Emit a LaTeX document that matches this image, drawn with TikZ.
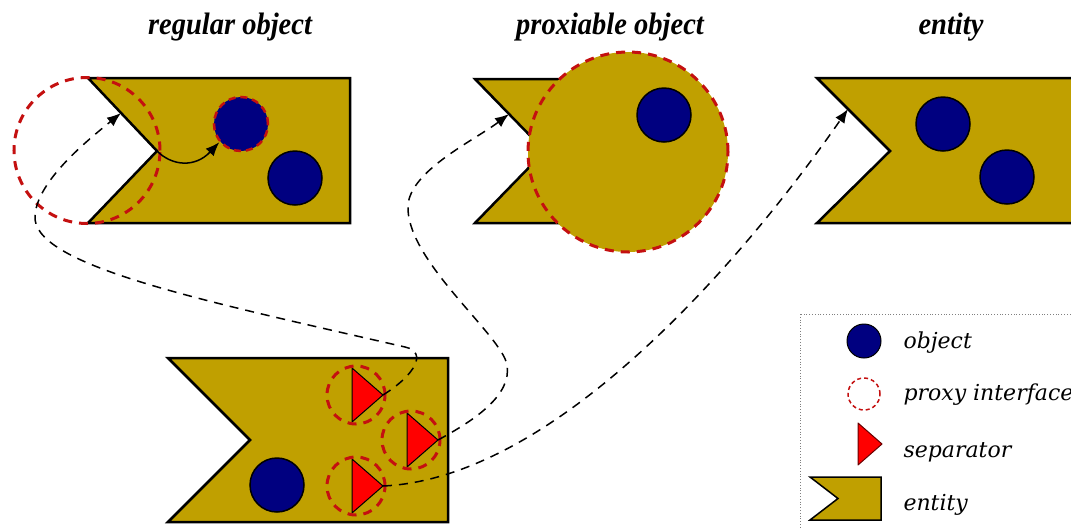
\documentclass[tikz,border=0pt]{standalone}
\usepackage{fontspec}
\setmainfont{Liberation Serif}
\newfontfamily\titlefont[FakeStretch=0.92]{Liberation Serif}
\newfontfamily\legendfont{DejaVu Serif}
\usetikzlibrary{arrows.meta}
\definecolor{entityolive}{RGB}{192,160,0}
\definecolor{objblue}{RGB}{0,0,128}
\definecolor{proxyred}{RGB}{196,16,16}

\begin{document}
\begin{tikzpicture}[x=1pt, y=-1pt,
    entity/.style = {draw, line width=2.5pt, fill=entityolive, line join=miter},
    object/.style = {draw, circle, fill=objblue, line width=1.5pt, minimum size=54pt, inner sep=0pt},
    proxy/.style = {draw=proxyred, circle, line width=3pt, dash pattern=on 9pt off 7pt, minimum size=58pt, inner sep=0pt},
    proxied/.style = {object, draw=proxyred, line width=2.5pt, dash pattern=on 7pt off 5pt},
    separator/.style = {draw, fill=red, line width=1pt, line join=round},
    link/.style = {line width=1.5pt, dash pattern=on 9pt off 7pt, -{Latex[length=14pt,width=11pt]}},
    title/.style = {font=\titlefont\bfseries\itshape\fontsize{31}{31}\selectfont, anchor=base},
    legend/.style = {font=\legendfont\itshape\fontsize{22}{22}\selectfont, anchor=base west}]
    \clip (0,0) rectangle (1071,528);

    % titles
    \node[title] (tregular) at (230,34) {regular object};
    \node[title] (tproxiable) at (610,34) {proxiable object};
    \node[title] (tentity) at (951,34) {entity};

    % regular object
    \draw[entity] (88,78) -- (350,78) -- (350,223) -- (88,223) -- (157,151) -- cycle;
    \coordinate (e1tip) at (157,151);
    \coordinate (n1a) at (121,113);
    \node[proxy, minimum size=146pt] (px1) at (87,150.5) {};
    \node[proxied] (o1) at (241,124) {};
    \node[object] (o2) at (295,178) {};
    \draw[line width=1.5pt, -{Latex[length=14pt,width=11pt]}] (e1tip) .. controls (172,166) and (195,168) .. (o1.220);

    % proxiable object
    \draw[entity] (475,79) -- (620,79) -- (620,223) -- (475,223) -- (545,151) -- cycle;
    \coordinate (n2a) at (509,114);
    \node[proxy, fill=entityolive, minimum size=200pt] (px2) at (628,152) {};
    \node[object] (o3) at (664,115) {};

    % entity
    \draw[entity] (817,78) -- (1085,78) -- (1085,223) -- (817,223) -- (890,151) -- cycle;
    \coordinate (n3a) at (848,109);
    \node[object] (o4) at (943,124) {};
    \node[object] (o5) at (1007,177) {};

    % entity with separators
    \draw[entity] (168,358) -- (448,358) -- (448,522) -- (168,522) -- (250,440) -- cycle;
    \node[object] (o6) at (277,485) {};
    \foreach \n/\x/\y in {1/352/395, 2/407/440, 3/352/486}{
        \draw[separator] (\x,\y-27) -- (\x+31,\y) -- (\x,\y+27) -- cycle;
        \node[proxy] (sp\n) at (\x+4,\y) {};
        \coordinate (sep\n) at (\x+31,\y);
    }

    % links
    \draw[link] (sep1) .. controls (415,375) and (428,352) .. (405,347)
        .. controls (200,300) and (30,265) .. (35,215)
        .. controls (38,180) and (88,140) .. (n1a);
    \draw[link] (sep2) .. controls (475,420) and (512,395) .. (507,365)
        .. controls (502,335) and (405,260) .. (408,205)
        .. controls (411,170) and (475,140) .. (n2a);
    \draw[link] (sep3) .. controls (560,478) and (750,250) .. (n3a);

    % legend
    \draw[dotted, line width=0.8pt, gray] (800,314) rectangle (1090,540);
    \node[object, minimum size=34pt, line width=1pt] (lobject) at (864,341) {};
    \node[proxy, minimum size=32pt, line width=1.5pt, dash pattern=on 4pt off 3pt] (lproxy) at (864,394) {};
    \draw[separator, draw=black!60!red] (858,423) -- (882,444) -- (858,465) -- cycle;
    \draw[entity, line width=1.5pt] (810,477) -- (881,477) -- (881,520) -- (810,520) -- (838,498.5) -- cycle;
    \node[legend] (tobject) at (900,348) {object};
    \node[legend] (tproxy) at (900,400) {proxy interface};
    \node[legend] (tseparator) at (900,457) {separator};
    \node[legend] (tentitylegend) at (900,510) {entity};
\end{tikzpicture}
\end{document}
